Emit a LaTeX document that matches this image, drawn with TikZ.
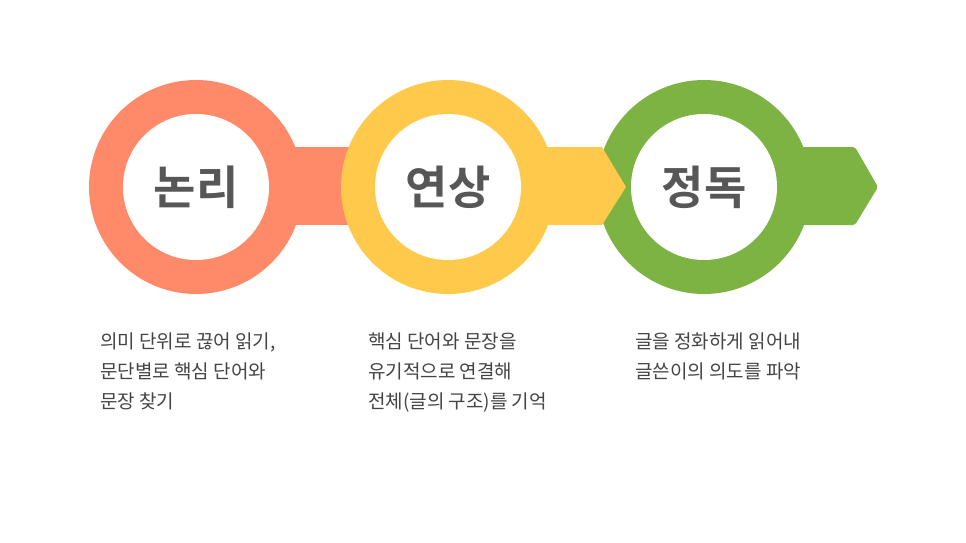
\documentclass[tikz,border=0pt]{standalone}
\usepackage{fontspec}
\newfontfamily\kr{Noto Sans CJK KR}
\newfontfamily\krb{Noto Sans CJK KR Bold}
\definecolor{cA}{HTML}{FF8A6A}
\definecolor{cB}{HTML}{FFCA4B}
\definecolor{cC}{HTML}{7CB342}
\definecolor{tx}{HTML}{444444}
\begin{document}
\begin{tikzpicture}[x=1pt,y=-1pt,
  ring/.style={circle,minimum size=214pt,inner sep=0pt},
  hole/.style={circle,fill=white,minimum size=146pt,inner sep=0pt,font=\krb\fontsize{46}{50}\selectfont,text=tx!90},
  desc/.style={anchor=north west,align=left,font=\kr\fontsize{19}{30}\selectfont,text=tx,inner sep=0pt}]
\useasboundingbox[fill=white] (0,0) rectangle (966,543);
% salmon
\fill[cA] (280,147) rectangle (370,225);
\node[ring,fill=cA] (r1) at (196,187) {};
% yellow
\node[ring,fill=cB] (r2) at (448,187) {};
% green
\node[ring,fill=cC] (r3) at (704,187) {};
\fill[cC,rounded corners=2pt] (790,147) -- (855,147) -- (878,187) -- (855,225) -- (790,225) -- cycle;
\fill[cB] (530,147) -- (602,147) -- (626,187) -- (602,225) -- (530,225) -- cycle;
\node[hole] (h1) at (r1) {논리};
\node[hole] (h2) at (r2) {연상};
\node[hole] (h3) at (r3) {정독};
\node[desc] (d1) at (100,333) {의미 단위로 끊어 읽기,\\문단별로 핵심 단어와\\문장 찾기};
\node[desc] (d2) at (368,333) {핵심 단어와 문장을\\유기적으로 연결해\\전체(글의 구조)를 기억};
\node[desc] (d3) at (635,333) {글을 정화하게 읽어내\\글쓴이의 의도를 파악};
\end{tikzpicture}
\end{document}
